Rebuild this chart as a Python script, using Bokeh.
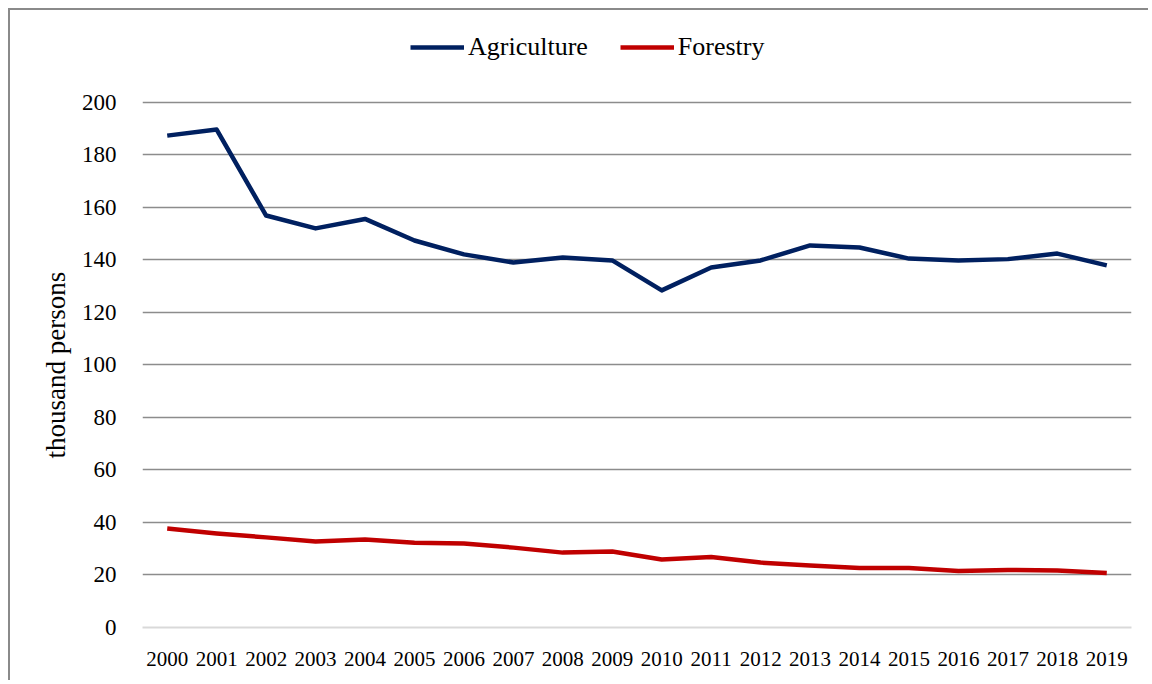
from bokeh.plotting import figure
from bokeh.models import FactorRange, Range1d, FixedTicker, Legend, LegendItem, Title
from bokeh.embed import file_html
from bokeh.resources import INLINE

years = [str(y) for y in range(2000, 2020)]
agriculture = [187.2, 189.5, 156.8, 151.9, 155.5, 147.3, 142.0, 138.9, 140.8, 139.7,
               128.3, 137.0, 139.7, 145.4, 144.6, 140.4, 139.7, 140.2, 142.3, 137.8]
forestry = [37.7, 35.8, 34.3, 32.7, 33.5, 32.3, 32.0, 30.4, 28.5, 28.9,
            25.9, 26.8, 24.7, 23.6, 22.6, 22.6, 21.5, 21.9, 21.7, 20.7]
y_ticks = [0, 20, 40, 60, 80, 100, 120, 140, 160, 180, 200]
y_label = "thousand persons"

FONT = "Liberation Serif"

# frame extends above the 200 gridline so that the legend (drawn in the frame) sits at the top
FRAME_TOP, FRAME_BOTTOM, Y200 = 10, 617, 91.5
y_end = y_ticks[-1] * (FRAME_BOTTOM - FRAME_TOP) / (FRAME_BOTTOM - Y200)

p = figure(width=1140, height=672, output_backend="svg", toolbar_location=None,
           x_range=FactorRange(factors=years, range_padding=0),
           y_range=Range1d(0, y_end),
           min_border_left=132, min_border_right=19, min_border_top=FRAME_TOP,
           min_border_bottom=672 - FRAME_BOTTOM)
p.styles = {"margin-left": "8px", "margin-top": "8px",
            "border-left": "2px solid #8a8a8a", "border-top": "2px solid #8a8a8a"}
p.outline_line_color = None
p.background_fill_color = "white"

r1 = p.line(years, agriculture, line_color="#002060", line_width=4.5, line_join="round")
r2 = p.line(years, forestry, line_color="#C00000", line_width=4.5, line_join="round")

p.xgrid.grid_line_color = None
p.ygrid.ticker = FixedTicker(ticks=y_ticks[1:])
p.ygrid.grid_line_color = "#8c8c8c"
p.ygrid.grid_line_width = 1.5

p.yaxis.ticker = FixedTicker(ticks=y_ticks)
p.yaxis.axis_line_color = None
p.yaxis.major_tick_line_color = None
p.yaxis.minor_tick_line_color = None
p.yaxis.major_label_standoff = 20
p.yaxis.major_label_text_font = FONT
p.yaxis.major_label_text_font_size = "23px"
p.yaxis.major_label_text_color = "black"

# y-axis title as a left-side Title so it can be centred on the 0..200 part of the frame
ytitle = Title(text=y_label, align="left", offset=169, vertical_align="bottom",
               standoff=16, text_font=FONT, text_font_size="27px",
               text_font_style="normal", text_color="black")
p.add_layout(ytitle, "left")

p.xaxis.axis_line_color = "#d9d9d9"
p.xaxis.axis_line_width = 2
p.xaxis.major_tick_line_color = None
p.xaxis.minor_tick_line_color = None
p.xaxis.major_label_standoff = 18
p.xaxis.major_label_text_font = FONT
p.xaxis.major_label_text_font_size = "21px"
p.xaxis.major_label_text_color = "black"

legend = Legend(items=[LegendItem(label="Agriculture", renderers=[r1]),
                       LegendItem(label="Forestry", renderers=[r2])],
                orientation="horizontal", location=(268, 565),
                glyph_width=54, glyph_height=20, label_height=20,
                label_standoff=4, spacing=32, padding=0, margin=0,
                border_line_color=None, background_fill_alpha=0,
                label_text_font=FONT, label_text_font_size="26px",
                label_text_color="black")
p.add_layout(legend)

open("out.html", "w").write(file_html(p, INLINE))
